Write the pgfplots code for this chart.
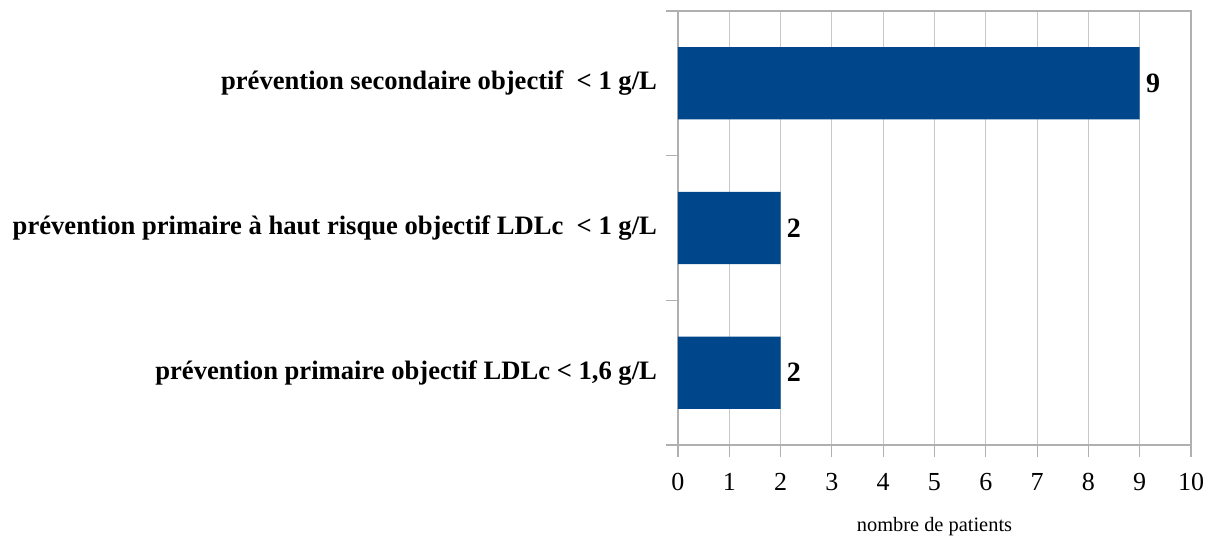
\documentclass[border=0pt]{standalone}
\usepackage{fontspec}
\setmainfont{Liberation Serif}
\usepackage{pgfplots}
\pgfplotsset{compat=1.18}
\definecolor{barblue}{HTML}{00468A}
\definecolor{gridgray}{HTML}{C8C8C8}
\definecolor{axisgray}{HTML}{B0B0B0}
\begin{document}
\begin{tikzpicture}
\useasboundingbox (-339pt,-47.5pt) rectangle (267.5pt,222.5pt);
\begin{axis}[
  at={(0pt,0pt)}, anchor=south west,
  scale only axis, width=256.5pt, height=217pt,
  xbar, bar width=0.5,
  xmin=0, xmax=10, ymin=-0.5, ymax=2.5,
  xtick={0,...,10},
  ytick={-0.5,0.5,1.5,2.5}, yticklabels={},
  extra y ticks={0,1,2},
  extra y tick labels={{prévention primaire objectif LDLc < 1,6 g/L},{prévention primaire à haut risque objectif LDLc\ \ < 1 g/L},{prévention secondaire objectif\ \ < 1 g/L}},
  extra y tick style={major tick length=0pt, ymajorgrids=false,
     tick label style={font=\bfseries\fontsize{13.3}{16}\selectfont, xshift=-7pt}},
  xtick pos=bottom, ytick pos=left,
  tick align=outside, major tick length=6pt,
  xmajorgrids, ymajorgrids=false,
  major grid style={gridgray, line width=0.6pt},
  axis line style={axisgray, line width=0.6pt},
  tick style={axisgray, line width=0.6pt},
  /pgf/number format/assume math mode=true,
  x tick label style={font=\fontsize{13}{15}\selectfont, yshift=-4.5pt},
  xlabel={nombre de patients},
  xlabel style={font=\fontsize{10.2}{12}\selectfont, yshift=-6.5pt},
]
\addplot[fill=barblue, draw=none,
  nodes near coords,
  nodes near coords style={font=\bfseries\fontsize{14}{16}\selectfont, anchor=west, inner sep=3pt, text=black}]
  coordinates {(2,0) (2,1) (9,2)};
\end{axis}
\end{tikzpicture}
\end{document}
